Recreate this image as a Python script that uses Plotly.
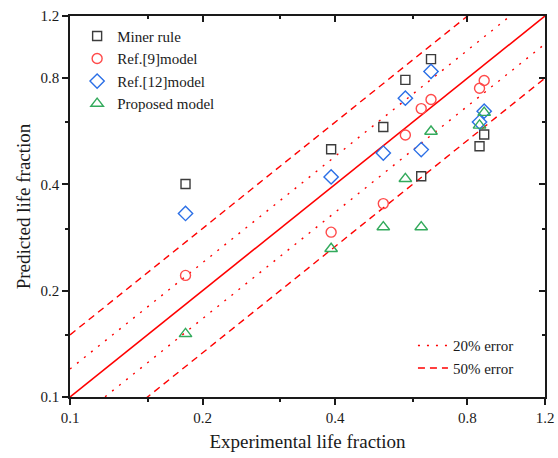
import plotly.graph_objects as go
import math

# Experimental life fraction (shared by all models)
experimental = [0.183, 0.392, 0.515, 0.578, 0.628, 0.661, 0.852, 0.873]

miner_rule = [0.401, 0.503, 0.582, 0.791, 0.422, 0.906, 0.513, 0.554]
ref9_model = [0.221, 0.293, 0.353, 0.552, 0.656, 0.696, 0.749, 0.788]
ref12_model = [0.331, 0.420, 0.491, 0.702, 0.502, 0.836, 0.601, 0.645]
proposed_model = [0.151, 0.263, 0.303, 0.415, 0.303, 0.565, 0.588, 0.639]

series_names = ["Miner rule", "Ref.[9]model", "Ref.[12]model", "Proposed model"]
series_values = [miner_rule, ref9_model, ref12_model, proposed_model]
series_symbols = ["square-open", "circle-open", "diamond-open", "triangle-up-open"]
series_colors = ["#3c3c3c", "#ff4a4a", "#2b6fe6", "#33aa5c"]
series_sizes = [9, 10, 11, 11]

axis_range = [0.1, 1.2]
major_ticks = [0.1, 0.2, 0.4, 0.8, 1.2]
major_labels = ["0.1", "0.2", "0.4", "0.8", "1.2"]
minor_ticks = [0.15, 0.3, 0.6]

error_20 = 1.2
error_50 = 1.5

FONT = "Liberation Serif, Times New Roman, serif"

fig = go.Figure()

# Reference lines
fig.add_trace(go.Scatter(x=axis_range, y=axis_range, mode="lines",
                         line=dict(color="#ff0000", width=1.6), showlegend=False, hoverinfo="skip"))
for f, dash, name in [(error_20, "2px,7px", "20% error"), (error_50, "7px,5px", "50% error")]:
    fig.add_trace(go.Scatter(x=axis_range, y=[v * f for v in axis_range], mode="lines",
                             line=dict(color="#ff0000", width=1.4, dash=dash),
                             name=name, legend="legend2", showlegend=True))
    fig.add_trace(go.Scatter(x=axis_range, y=[v / f for v in axis_range], mode="lines",
                             line=dict(color="#ff0000", width=1.4, dash=dash),
                             name=name, legend="legend2", showlegend=False))

for name, vals, sym, col, sz in zip(series_names, series_values, series_symbols, series_colors, series_sizes):
    fig.add_trace(go.Scatter(x=experimental, y=vals, mode="markers", name=name,
                             marker=dict(symbol=sym, size=sz, color=col, line=dict(width=1.4, color=col)),
                             legend="legend"))

# dummy trace for mirrored axes
fig.add_trace(go.Scatter(x=[], y=[], xaxis="x2", yaxis="y2", showlegend=False))

lr = [math.log10(axis_range[0]), math.log10(axis_range[1])]
common = dict(type="log", range=lr, tickmode="array", tickvals=major_ticks, automargin=False,
              showgrid=False, zeroline=False, showline=True, linecolor="#1a1a1a",
              linewidth=1.5, tickwidth=1.5, tickcolor="#1a1a1a")

fig.update_layout(
    width=558, height=458,
    margin=dict(l=70, r=13, t=16, b=61),
    paper_bgcolor="white", plot_bgcolor="white",
    font=dict(family=FONT, size=15, color="#1a1a1a"),
    xaxis=dict(**common, ticktext=major_labels, ticks="outside", ticklen=6,
               tickfont=dict(size=15),
               minor=dict(tickmode="array", tickvals=minor_ticks, ticks="outside", ticklen=3,
                          tickwidth=1.5, tickcolor="#1a1a1a"),
               title=dict(text="Experimental life fraction", font=dict(size=19), standoff=10)),
    yaxis=dict(**common, ticktext=major_labels, ticks="outside", ticklen=6,
               tickfont=dict(size=15),
               minor=dict(tickmode="array", tickvals=minor_ticks, ticks="outside", ticklen=3,
                          tickwidth=1.5, tickcolor="#1a1a1a"),
               title=dict(text="Predicted life fraction", font=dict(size=19), standoff=5)),
    xaxis2=dict(**common, overlaying="x", side="top", anchor="y", ticks="inside", ticklen=6,
                showticklabels=False,
                minor=dict(tickmode="array", tickvals=minor_ticks, ticks="inside", ticklen=3,
                           tickwidth=1.5, tickcolor="#1a1a1a")),
    yaxis2=dict(**common, overlaying="y", side="right", anchor="x", ticks="inside", ticklen=6,
                showticklabels=False,
                minor=dict(tickmode="array", tickvals=minor_ticks, ticks="inside", ticklen=3,
                           tickwidth=1.5, tickcolor="#1a1a1a")),
    legend=dict(x=0.015, y=0.99, xanchor="left", yanchor="top", bgcolor="rgba(0,0,0,0)",
                font=dict(size=15), itemwidth=30, tracegroupgap=0),
    legend2=dict(x=0.722, y=0.178, xanchor="left", yanchor="top", bgcolor="rgba(0,0,0,0)",
                 font=dict(size=15), itemwidth=30),
)

fig.write_html("out.html", config={"displayModeBar": False},
               post_script="document.body.style.margin='0';document.body.style.overflow='hidden';")
